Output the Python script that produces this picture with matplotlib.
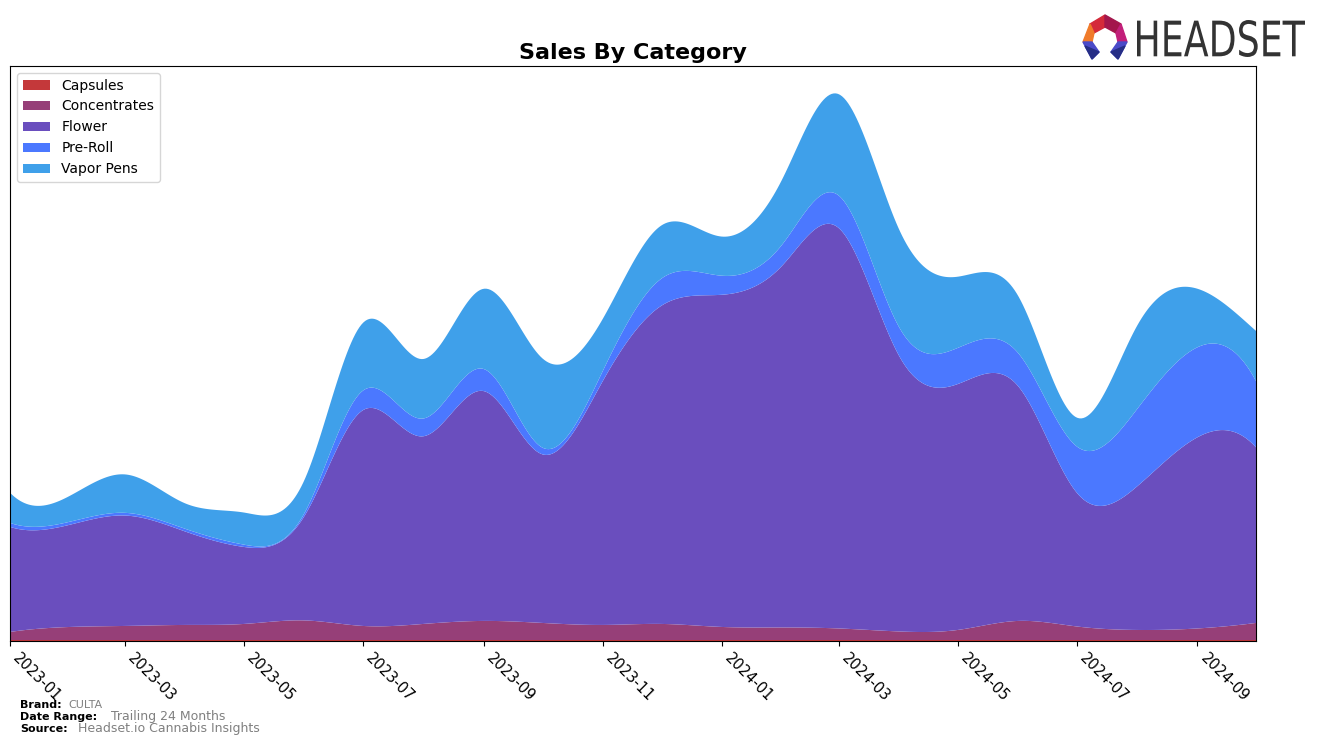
import numpy as np
import pandas as pd
import matplotlib
matplotlib.use('Agg')
import matplotlib.pyplot as plt
import matplotlib.dates as mdates
from matplotlib.patches import Polygon, PathPatch
from matplotlib.textpath import TextPath
from matplotlib.font_manager import FontProperties
from matplotlib.transforms import Affine2D

# monthly sales by category (arbitrary units)
months = pd.date_range('2023-01-01', periods=22, freq='MS')
categories = ['Capsules', 'Concentrates', 'Flower', 'Pre-Roll', 'Vapor Pens']
capsules = [1.0] * 22
concentrates = [8, 13, 14, 15, 16, 19.5, 14, 16, 19, 17, 15, 16, 13, 12.5, 11.5, 8.5, 10, 19, 13.5, 10, 11.5, 17]
flower = [104.7, 102, 110, 93, 76.7, 104, 215, 187, 229, 168, 243, 317, 331, 360.5, 399, 274.5, 245, 234,
          133.5, 143, 190.5, 175]
preroll = [4, 3, 2.7, 2.7, 2.3, 3, 19.5, 17.7, 22, 6.7, 10, 27, 19, 21, 32.4, 28.6, 36, 33, 46, 77, 89.7, 66]
vapor = [30, 26, 38.3, 25.3, 32, 33, 67.5, 59.3, 80, 89, 52, 53, 39, 65, 101, 97.4, 71, 57, 28.7, 83, 58.3, 50]

colores = ['#C4383A', '#963F78', '#6A4EBE', '#4B78FF', '#3FA0EA']


def spline(x, y, xs):
    # cubic spline, not-a-knot ends
    x = np.asarray(x, float)
    y = np.asarray(y, float)
    n = len(x)
    h = np.diff(x)
    A = np.zeros((n, n))
    r = np.zeros(n)
    A[0, 0], A[0, 1], A[0, 2] = h[1], -(h[0] + h[1]), h[0]
    A[-1, -3], A[-1, -2], A[-1, -1] = h[-1], -(h[-2] + h[-1]), h[-2]
    for i in range(1, n - 1):
        A[i, i - 1] = h[i - 1]
        A[i, i] = 2 * (h[i - 1] + h[i])
        A[i, i + 1] = h[i]
        r[i] = 3 * ((y[i + 1] - y[i]) / h[i] - (y[i] - y[i - 1]) / h[i - 1])
    c = np.linalg.solve(A, r)
    b = (y[1:] - y[:-1]) / h - h * (2 * c[:-1] + c[1:]) / 3
    d = (c[1:] - c[:-1]) / (3 * h)
    idx = np.clip(np.searchsorted(x, xs) - 1, 0, n - 2)
    dx = xs - x[idx]
    return y[idx] + b[idx] * dx + c[idx] * dx ** 2 + d[idx] * dx ** 3


xnum = mdates.date2num(months)
xs = np.linspace(xnum[0], xnum[-1], 600)
series = [capsules, concentrates, flower, preroll, vapor]
suaves = [np.clip(spline(xnum, s, xs), 0, None) for s in series]

fig = plt.figure(figsize=(13.2, 7.45), dpi=100)
ax = fig.add_axes([0.0076, 0.1396, 0.9439, 0.7718])
ax.stackplot(xs, *suaves, labels=categories, colors=colores, linewidth=0)

total = np.sum(suaves, axis=0)
ax.set_xlim(xnum[0], xnum[-1])
ax.set_ylim(0, total.max() * 1.05)
ax.set_yticks([])
ticks = months[::2]
ax.set_xticks(mdates.date2num(ticks))
ax.set_xticklabels([t.strftime('%Y-%m') for t in ticks], rotation=-45, ha='left', fontsize=10.5)
ax.set_title('Sales By Category', fontsize=16, fontweight='bold', pad=5)
ax.legend(loc='upper left', fontsize=10)

# footer
fig.text(0.015, 0.049, 'Brand:', fontsize=8, fontweight='bold')
fig.text(0.052, 0.049, 'CULTA', fontsize=8, color='gray')
fig.text(0.015, 0.033, 'Date Range:', fontsize=8, fontweight='bold')
fig.text(0.084, 0.033, 'Trailing 24 Months', fontsize=9, color='gray')
fig.text(0.015, 0.017, 'Source:', fontsize=8, fontweight='bold')
fig.text(0.059, 0.017, 'Headset.io Cannabis Insights', fontsize=9, color='gray')

# logo
lax = fig.add_axes([0, 0, 1, 1], zorder=5)
lax.set_xlim(0, 1320)
lax.set_ylim(745, 0)
lax.axis('off')
piezas = [
    ([(1090, 24), (1105, 15), (1105, 27), (1094, 33)], '#D42A3A'),
    ([(1105, 15), (1121, 24), (1116, 33), (1105, 27)], '#A3164C'),
    ([(1121, 24), (1127, 42), (1118, 42), (1116, 33)], '#C21F7A'),
    ([(1090, 24), (1094, 33), (1092, 42), (1083, 42)], '#F07B2A'),
    ([(1083, 42), (1092, 42), (1099, 52), (1092, 59)], '#4A4AC8'),
    ([(1127, 42), (1118, 42), (1111, 52), (1118, 59)], '#4A4AC8'),
    ([(1085, 46), (1099, 52), (1092, 59)], '#262E86'),
    ([(1125, 46), (1111, 52), (1118, 59)], '#262E86'),
]
for pts, col in piezas:
    lax.add_patch(Polygon(pts, closed=True, color=col))

tp = TextPath((0, 0), 'HEADSET', size=10, prop=FontProperties(family='DejaVu Sans'))
ext = tp.get_extents()
sx = (1305 - 1137) / ext.width
sy = (57 - 20) / ext.height
trans = Affine2D().translate(-ext.x0, -ext.y0).scale(sx, -sy).translate(1137, 57)
lax.add_patch(PathPatch(trans.transform_path(tp), color='#333333', lw=0))

fig.savefig('out.png', dpi=100)
